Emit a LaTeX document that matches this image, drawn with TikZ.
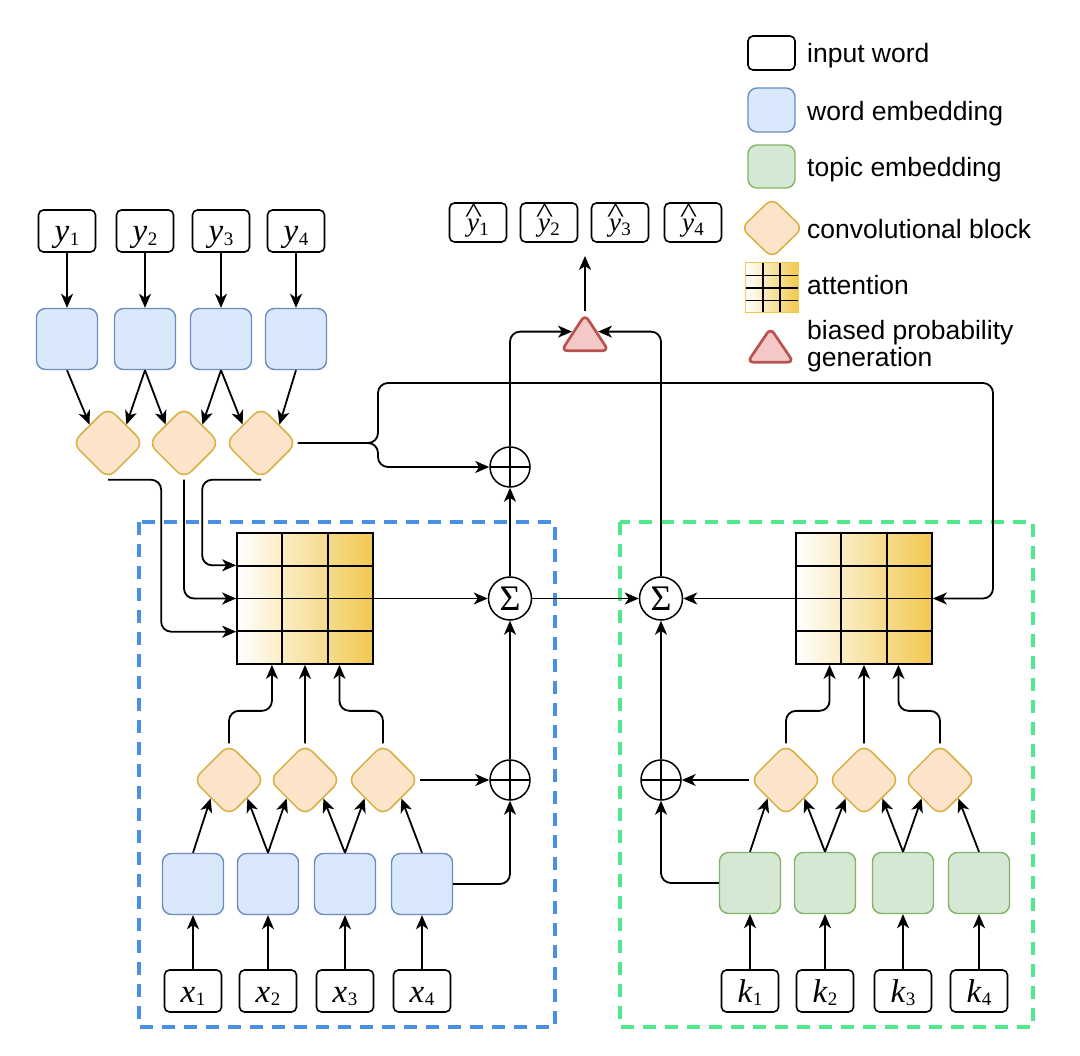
\RequirePackage{fix-cm}
\documentclass[tikz,border=0pt]{standalone}
\usepackage{graphicx}
\usepackage{fontspec}
\setsansfont{Liberation Sans}
\newfontfamily\serif{Liberation Serif}
\usetikzlibrary{shapes.geometric,arrows.meta,calc}
\definecolor{blueF}{RGB}{218,232,252}
\definecolor{blueD}{RGB}{108,142,191}
\definecolor{greenF}{RGB}{213,232,212}
\definecolor{greenD}{RGB}{130,179,102}
\definecolor{convF}{RGB}{252,228,202}
\definecolor{convD}{RGB}{214,176,64}
\definecolor{attY}{RGB}{242,200,80}
\definecolor{triF}{RGB}{245,200,200}
\definecolor{triD}{RGB}{184,84,80}
\definecolor{dashB}{RGB}{74,144,226}
\definecolor{dashG}{RGB}{80,232,140}
\newcommand{\lbl}[2]{{\serif\itshape #1}\kern0.5pt\raisebox{-3.5pt}{\serif\fontsize{19}{20}\selectfont #2}}
\newcommand{\hlbl}[2]{\ooalign{{\serif\itshape #1}\cr\hidewidth\kern1.5pt\raisebox{9pt}{\scalebox{1.35}[1.05]{\serif\textasciicircum}}\hidewidth\cr}\kern0.5pt\raisebox{-3.5pt}{\serif\fontsize{19}{20}\selectfont #2}}
\begin{document}
\begin{tikzpicture}[x=1pt,y=-1pt,
  arr/.style={-{Stealth[length=14pt,width=12pt,inset=4pt]}, line width=1.8pt},
  rc/.style={rounded corners=10pt},
  inbox/.style={draw, line width=1.6pt, rounded corners=5pt, minimum width=57pt, minimum height=42pt, inner sep=0pt, fill=white, font=\fontsize{33}{36}\selectfont, text height=22pt, text depth=0pt},
  hbox/.style={inbox, font=\fontsize{27}{30}\selectfont, text height=19pt, minimum height=39pt},
  embB/.style={draw=blueD, fill=blueF, line width=1.4pt, rounded corners=9pt, minimum width=61pt, minimum height=61pt, inner sep=0pt},
  embG/.style={embB, draw=greenD, fill=greenF},
  conv/.style={diamond, draw=convD, fill=convF, line width=1.5pt, rounded corners=10pt, minimum width=72pt, minimum height=72pt, inner sep=0pt},
  grid/.style={line width=1.7pt, draw=black},
  att/.style={draw, line width=1.7pt, left color=white, right color=attY, minimum width=136pt, minimum height=131pt, inner sep=0pt,
    path picture={
      \foreach \f in {1,2}
        \draw[grid] ($(path picture bounding box.north west)!\f/3!(path picture bounding box.north east)$) -- ($(path picture bounding box.south west)!\f/3!(path picture bounding box.south east)$);
      \foreach \f in {1,2,3}
        \draw[grid] ($(path picture bounding box.north west)!\f/4!(path picture bounding box.south west)$) -- ($(path picture bounding box.north east)!\f/4!(path picture bounding box.south east)$);
    }},
  opl/.style={circle, draw, line width=1.5pt, minimum size=40pt, inner sep=0pt,
    path picture={\draw[line width=1.5pt] (path picture bounding box.north) -- (path picture bounding box.south) (path picture bounding box.west) -- (path picture bounding box.east);}},
  sig/.style={circle, draw, line width=1.5pt, minimum size=43pt, inner sep=0pt, font=\serif\fontsize{36}{38}\selectfont},
  tri/.style={isosceles triangle, isosceles triangle stretches, shape border rotate=90, minimum width=47pt, minimum height=36pt, inner sep=0pt, fill=triF, draw=triD, line width=2.7pt, rounded corners=6pt},
  lg/.style={anchor=west, inner sep=0pt, font=\sffamily\fontsize{26.5}{30}\selectfont, text height=19pt, text depth=5.6pt},
  dbox/.style={dash pattern=on 13pt off 9pt, line width=3.2pt}
]
\useasboundingbox (0,0) rectangle (1080,1056);

% dashed groups
\draw[dbox, dashB] (139,522) rectangle (555,1027);
\draw[dbox, dashG] (620,522) rectangle (1033,1027);

% legend
\node[inbox, minimum width=47pt, minimum height=34pt] (Lin) at (771.5,53) {};
\node[embB, minimum width=47pt, minimum height=44pt] (Lemb) at (771.5,110) {};
\node[embG, minimum width=47pt, minimum height=43pt] (Ltop) at (771.5,166.5) {};
\node[conv, minimum width=62pt, minimum height=60pt, rounded corners=8pt] (Lconv) at (772,228) {};
\node[att, draw=attY, line width=1pt, minimum width=53pt, minimum height=50pt] (Latt) at (771.5,288) {};
\node[tri, minimum width=46pt, minimum height=34pt] (Ltri) at (770.5,350) {};
\node[lg] (t1) at (807,56) {input word};
\node[lg] (t2) at (807,114) {word embedding};
\node[lg] (t3) at (807,170) {topic embedding};
\node[lg] (t4) at (807,232) {convolutional block};
\node[lg] (t5) at (807,288) {attention};
\node[lg] (t6) at (807,333) {biased probability};
\node[lg] (t7) at (807,360) {generation};

% top decoder inputs
\node[inbox] (y1) at (67,231) {\lbl{y}{1}};
\node[inbox] (y2) at (145,231) {\lbl{y}{2}};
\node[inbox] (y3) at (221,231) {\lbl{y}{3}};
\node[inbox] (y4) at (296,231) {\lbl{y}{4}};
\node[embB] (b1) at (67,339) {};
\node[embB] (b2) at (145,339) {};
\node[embB] (b3) at (221,339) {};
\node[embB] (b4) at (296,339) {};
\node[conv] (d1) at (108,443) {};
\node[conv] (d2) at (184,443) {};
\node[conv] (d3) at (261,443) {};

% outputs
\node[hbox] (h1) at (478,222.5) {\hlbl{y}{1}};
\node[hbox] (h2) at (549,222.5) {\hlbl{y}{2}};
\node[hbox] (h3) at (620,222.5) {\hlbl{y}{3}};
\node[hbox] (h4) at (693,222.5) {\hlbl{y}{4}};
\coordinate (out) at (585,256);
\node[tri] (tri) at (585,338) {};

% operators
\node[opl] (plusT) at (510,467) {};
\node[sig] (sumL) at (510,598.5) {Σ};
\node[opl] (plusL) at (510,780) {};
\node[sig] (sumR) at (661,598.5) {Σ};
\node[opl] (plusR) at (661,780) {};

% attention blocks
\node[att] (attL) at (305,598.5) {};
\node[att] (attR) at (864,598.5) {};
\coordinate (aL1) at ($(attL.south west)!0.25!(attL.north west)$);
\coordinate (aL2) at ($(attL.south west)!0.5!(attL.north west)$);
\coordinate (aL3) at ($(attL.south west)!0.75!(attL.north west)$);
\coordinate (aLb1) at ($(attL.south west)!0.26!(attL.south east)$);
\coordinate (aLb2) at ($(attL.south west)!0.5!(attL.south east)$);
\coordinate (aLb3) at ($(attL.south west)!0.75!(attL.south east)$);
\coordinate (aRb1) at ($(attR.south west)!0.25!(attR.south east)$);
\coordinate (aRb2) at ($(attR.south west)!0.5!(attR.south east)$);
\coordinate (aRb3) at ($(attR.south west)!0.75!(attR.south east)$);

% encoder (words)
\node[conv] (ld1) at (229,780) {};
\node[conv] (ld2) at (305,780) {};
\node[conv] (ld3) at (383,780) {};
\node[embB] (lb1) at (193,884) {};
\node[embB] (lb2) at (268,884) {};
\node[embB] (lb3) at (345,884) {};
\node[embB] (lb4) at (422,884) {};
\node[inbox] (x1) at (193,991) {\lbl{x}{1}};
\node[inbox] (x2) at (268,991) {\lbl{x}{2}};
\node[inbox] (x3) at (345,991) {\lbl{x}{3}};
\node[inbox] (x4) at (422,991) {\lbl{x}{4}};

% encoder (topics)
\node[conv] (rd1) at (786,780) {};
\node[conv] (rd2) at (864,780) {};
\node[conv] (rd3) at (940,780) {};
\node[embG] (gb1) at (750,883) {};
\node[embG] (gb2) at (825,883) {};
\node[embG] (gb3) at (903,883) {};
\node[embG] (gb4) at (979,883) {};
\node[inbox] (k1) at (750,991) {\lbl{k}{1}};
\node[inbox] (k2) at (825,991) {\lbl{k}{2}};
\node[inbox] (k3) at (903,991) {\lbl{k}{3}};
\node[inbox] (k4) at (979,991) {\lbl{k}{4}};

% ---- connectors: decoder input
\foreach \i in {1,2,3,4} \draw[arr] (y\i.south) -- (b\i.north);
\draw[arr] (b1.south) -- (d1.north west);
\draw[arr] (b2.south) -- (d1.north east);
\draw[arr] (b2.south) -- (d2.north west);
\draw[arr] (b3.south) -- (d2.north east);
\draw[arr] (b3.south) -- (d3.north west);
\draw[arr] (b4.south) -- (d3.north east);

% decoder conv -> attention
\draw[arr, rc] (d1.south) -| ($(aL1)+(-75,0)$) -- (aL1);
\draw[arr, rc] (d2.south) |- (aL2);
\draw[arr, rc] (d3.south) -| ($(aL3)+(-34,0)$) -- (aL3);

% decoder conv -> plus / right attention
\draw[arr, rc] (d3.east) -- (378,443) |- (993,383) |- (attR);
\draw[arr, rc] (d3.east) -- (378,443) |- (plusT);

% word encoder
\foreach \i in {1,2,3,4} \draw[arr] (x\i.north) -- (lb\i.south);
\draw[arr] (lb1.north) -- (ld1.south west);
\draw[arr] (lb2.north) -- (ld1.south east);
\draw[arr] (lb2.north) -- (ld2.south west);
\draw[arr] (lb3.north) -- (ld2.south east);
\draw[arr] (lb3.north) -- (ld3.south west);
\draw[arr] (lb4.north) -- (ld3.south east);
\draw[arr, rc] (ld1.north) |- ($(aLb1)+(0,46)$) -- (aLb1);
\draw[arr] (ld2.north) -- (aLb2);
\draw[arr, rc] (ld3.north) |- ($(aLb3)+(0,46)$) -- (aLb3);
\draw[arr] (ld3.east) -- (plusL);
\draw[arr, rc] (lb4.east) -| (plusL);

% topic encoder
\foreach \i in {1,2,3,4} \draw[arr] (k\i.north) -- (gb\i.south);
\draw[arr] (gb1.north) -- (rd1.south west);
\draw[arr] (gb2.north) -- (rd1.south east);
\draw[arr] (gb2.north) -- (rd2.south west);
\draw[arr] (gb3.north) -- (rd2.south east);
\draw[arr] (gb3.north) -- (rd3.south west);
\draw[arr] (gb4.north) -- (rd3.south east);
\draw[arr, rc] (rd1.north) |- ($(aRb1)+(0,46)$) -- (aRb1);
\draw[arr] (rd2.north) -- (aRb2);
\draw[arr, rc] (rd3.north) |- ($(aRb3)+(0,46)$) -- (aRb3);
\draw[arr] (rd1.west) -- (plusR);
\draw[arr, rc] (gb1.west) -| (plusR);

% central combination
\draw[arr] (attL.east) -- (sumL);
\draw[arr] (plusL) -- (sumL);
\draw[arr] (plusR) -- (sumR);
\draw[arr] (attR.west) -- (sumR);
\draw[arr] (sumL) -- (sumR);
\draw[arr] (sumL) -- (plusT);
\draw[arr, rc] (plusT) |- (tri.left side);
\draw[arr, rc] (sumR) |- (tri.right side);
\draw[arr] (tri.apex) -- (out);
\end{tikzpicture}
\end{document}
